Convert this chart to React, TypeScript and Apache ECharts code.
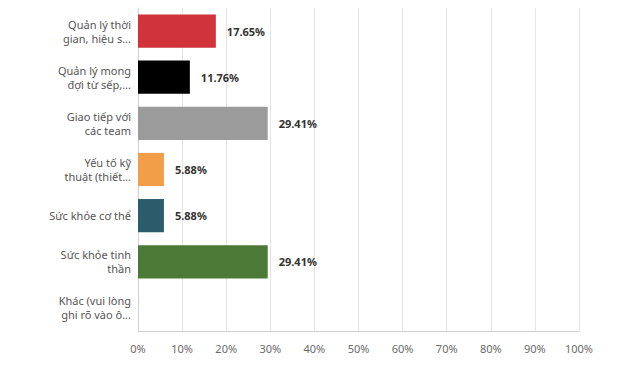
import React, { useEffect, useRef } from "react";
import * as echarts from "echarts";

const categories = [
  "Quản lý thời\ngian, hiệu s...",
  "Quản lý mong\nđợi từ sếp,...",
  "Giao tiếp với\ncác team",
  "Yếu tố kỹ\nthuật (thiết...",
  "Sức khỏe cơ thể",
  "Sức khỏe tinh\nthần",
  "Khác (vui lòng\nghi rõ vào ô...",
];
const values = [17.65, 11.76, 29.41, 5.88, 5.88, 29.41, 0];
const barColors = ["#d0343a", "#000000", "#9b9b9b", "#f29e49", "#2c5c6b", "#4a7a35", "#888888"];
const xTicks = [0, 10, 20, 30, 40, 50, 60, 70, 80, 90, 100];

export default function App() {
  const ref = useRef<HTMLDivElement>(null);
  useEffect(() => {
    if (!ref.current) return;
    const chart = echarts.init(ref.current, undefined, { renderer: "svg" });
    const font = "'Noto Sans', 'Open Sans', sans-serif";
    chart.setOption({
      animation: false,
      grid: { left: 138, right: 45, top: 8, bottom: 40, containLabel: false },
      xAxis: {
        type: "value",
        min: xTicks[0],
        max: xTicks[xTicks.length - 1],
        interval: 10,
        axisLine: { show: true, lineStyle: { color: "#cfcfcf", width: 1 } },
        axisTick: { show: false },
        splitLine: { show: true, lineStyle: { color: "#e4e4e4", width: 1 } },
        axisLabel: {
          formatter: (v: number) => `${v}%`,
          color: "#6b6b6b",
          fontSize: 11,
          fontFamily: font,
          margin: 12,
        },
      },
      yAxis: {
        type: "category",
        inverse: true,
        data: categories,
        axisLine: { show: true, lineStyle: { color: "#cfcfcf" } },
        axisTick: { show: false },
        axisLabel: {
          color: "#555555",
          fontSize: 11,
          fontFamily: font,
          lineHeight: 14,
          margin: 7,
          align: "right",
        },
      },
      series: [
        {
          type: "bar",
          barCategoryGap: "28%",
          data: values.map((v, i) => ({ value: v, itemStyle: { color: barColors[i] } })),
          label: {
            show: true,
            position: "right",
            distance: 11,
            formatter: (p: any) => (p.value > 0 ? `${p.value.toFixed(2)}%` : ""),
            color: "#333333",
            fontWeight: "bold",
            fontSize: 11,
            fontFamily: font,
          },
        },
      ],
    });
    return () => chart.dispose();
  }, []);
  return <div ref={ref} style={{ width: 624, height: 371, position: "absolute", left: 0, top: 0 }} />;
}
